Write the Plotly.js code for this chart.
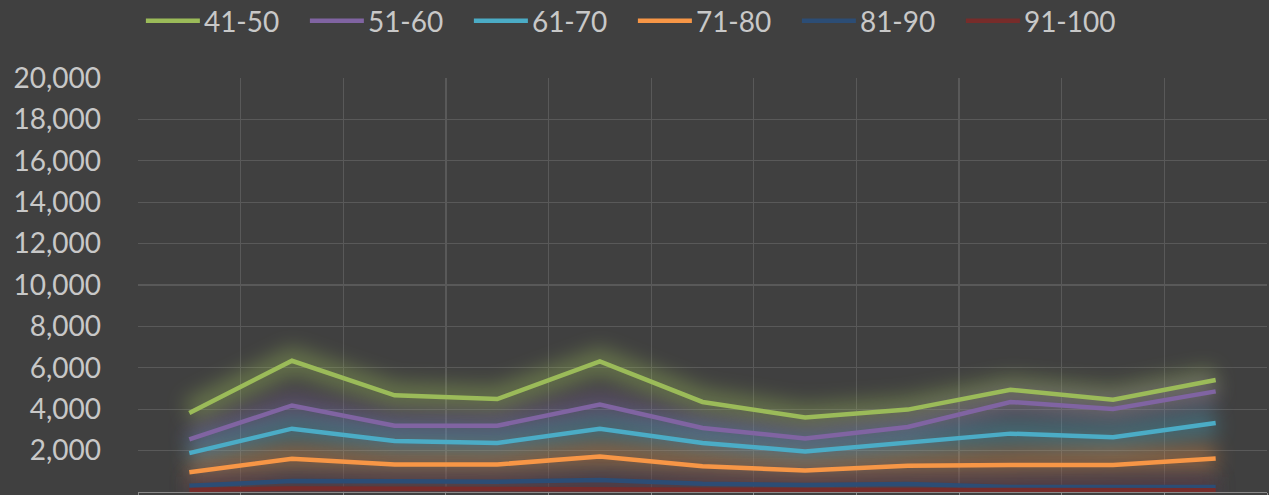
<!DOCTYPE html>
<html>
<head>
<meta charset="utf-8">
<script src="https://cdn.plot.ly/plotly-3.0.1.min.js"></script>
<style>
  html, body { margin:0; padding:0; background:#404040; }
  #chart { width:1269px; height:495px; }
</style>
</head>
<body>
<div id="chart"></div>
<script>
// ---- data ----
const categories = ["1","2","3","4","5","6","7","8","9","10","11"];
const seriesNames = ["41-50","51-60","61-70","71-80","81-90","91-100"];
const s41_50  = [3820, 6340, 4670, 4490, 6310, 4350, 3600, 3980, 4940, 4460, 5410];
const s51_60  = [2540, 4180, 3200, 3200, 4220, 3090, 2590, 3140, 4350, 4010, 4860];
const s61_70  = [1880, 3060, 2460, 2370, 3060, 2370, 1960, 2370, 2820, 2640, 3330];
const s71_80  = [ 950, 1610, 1330, 1330, 1720, 1240, 1040, 1270, 1300, 1300, 1620];
const s81_90  = [ 300,  530,  520,  500,  580,  400,  340,  390,  240,  240,  240];
const s91_100 = [ 100,  170,  160,  160,  130,  110,  100,  100,   90,   90,   90];
const yTicks = [2000, 4000, 6000, 8000, 10000, 12000, 14000, 16000, 18000, 20000];
const yTickText = ["2,000","4,000","6,000","8,000","10,000","12,000","14,000","16,000","18,000","20,000"];

const allSeries = [s41_50, s51_60, s61_70, s71_80, s81_90, s91_100];
const colors = ["#9BBB59","#8064A2","#4BACC6","#F79646","#2C4D75","#772C2A"];

const glowTraces = allSeries.map((ys, i) => ({
  x: categories, y: ys, type: 'scatter', mode: 'lines',
  line: { color: colors[i], width: 26, shape: 'linear' },
  opacity: 0.4, showlegend: false, hoverinfo: 'skip'
}));
const lineTraces = allSeries.map((ys, i) => ({
  x: categories, y: ys, type: 'scatter', mode: 'lines', name: seriesNames[i],
  line: { color: colors[i], width: 4.5 }
}));

const layout = {
  width: 1269, height: 495,
  paper_bgcolor: '#404040', plot_bgcolor: '#404040',
  margin: { l: 138, r: 2, t: 78, b: 3 },
  font: { family: 'Lato, "Open Sans", sans-serif', size: 28, color: '#c8c8c8' },
  showlegend: true,
  legend: {
    orientation: 'h', x: 0.441, xanchor: 'center', yref: 'container', y: 1, yanchor: 'top',
    font: { size: 28, color: '#c8c8c8' }, itemwidth: 50, bgcolor: 'rgba(0,0,0,0)',
    entrywidth: 99, entrywidthmode: 'pixels', traceorder: 'normal'
  },
  xaxis: {
    type: 'category', range: [-0.5, 10.5], tickson: 'boundaries', showgrid: true,
    gridcolor: '#595959', gridwidth: 1.3,
    showline: true, linecolor: '#8a8a8a', linewidth: 1.3,
    ticks: 'outside', ticklen: 6, tickcolor: '#8a8a8a',
    showticklabels: false, automargin: false, zeroline: false, fixedrange: true
  },
  yaxis: {
    range: [0, 20000], tickvals: yTicks, ticktext: yTickText,
    showgrid: true, gridcolor: '#595959', gridwidth: 1.3, zeroline: false,
    ticks: '', ticklabelstandoff: 36, automargin: false, fixedrange: true,
    tickfont: { size: 28, color: '#c8c8c8' }
  }
};

Plotly.newPlot('chart', glowTraces.concat(lineTraces), layout, { staticPlot: true, displayModeBar: false })
.then(gd => {
  const ns = 'http://www.w3.org/2000/svg';
  const svg = gd.querySelector('.main-svg');
  let defs = svg.querySelector('defs');
  if (!defs) { defs = document.createElementNS(ns, 'defs'); svg.insertBefore(defs, svg.firstChild); }
  const f = document.createElementNS(ns, 'filter');
  f.setAttribute('id', 'glowblur');
  f.setAttribute('filterUnits', 'userSpaceOnUse');
  f.setAttribute('x', '-200'); f.setAttribute('y', '-200');
  f.setAttribute('width', '2000'); f.setAttribute('height', '1000');
  const b = document.createElementNS(ns, 'feGaussianBlur');
  b.setAttribute('stdDeviation', '10');
  f.appendChild(b); defs.appendChild(f);
  const tr = gd.querySelectorAll('.scatterlayer .trace');
  tr.forEach((t, i) => { if (i < glowTraces.length) t.setAttribute('filter', 'url(#glowblur)'); });
  // lengthen legend line samples to sit just before the text, as in the reference
  gd.querySelectorAll('.legend .traces').forEach(item => {
    const txt = item.querySelector('text.legendtext');
    const tx = txt ? parseFloat(txt.getAttribute('x')) : 40;
    item.querySelectorAll('.legendlines path').forEach(p => {
      p.setAttribute('d', 'M' + (tx - 58) + ',0h54');
    });
  });
  // nudge the legend up a few pixels
  const lg = gd.querySelector('g.legend');
  if (lg) {
    const m = /translate\(([-\d.]+)[ ,]+([-\d.]+)\)/.exec(lg.getAttribute('transform') || '');
    if (m) lg.setAttribute('transform', 'translate(' + m[1] + ',' + (parseFloat(m[2]) - 4) + ')');
  }
});
</script>
</body>
</html>
